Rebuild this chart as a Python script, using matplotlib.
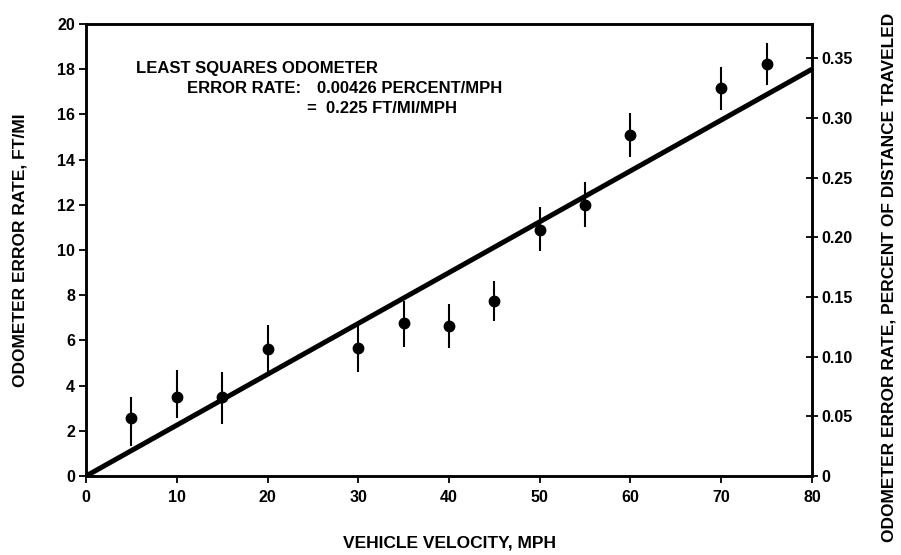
import matplotlib
matplotlib.use("Agg")
import matplotlib.pyplot as plt
import numpy as np

plt.rcParams['font.family'] = ['Liberation Sans', 'DejaVu Sans']
plt.rcParams['font.weight'] = 'bold'

# Data (ft/mi)
velocity = [5, 10, 15, 20, 30, 35, 40, 45, 50, 55, 60, 70, 75]
error_rate = [2.55, 3.5, 3.5, 5.6, 5.65, 6.75, 6.65, 7.75, 10.9, 12.0, 15.1, 17.15, 18.25]
err_lo = [1.2, 0.95, 1.2, 1.05, 1.05, 1.05, 1.0, 0.9, 0.95, 1.0, 1.0, 0.95, 0.95]
err_hi = [0.95, 1.2, 1.1, 1.1, 1.0, 1.0, 0.95, 0.9, 1.0, 1.0, 0.95, 0.95, 0.9]
slope_ft_mi_mph = 0.225
fit_x = [0, 80]

x_ticks = [0, 10, 20, 30, 40, 50, 60, 70, 80]
y_ticks = [0, 2, 4, 6, 8, 10, 12, 14, 16, 18, 20]
pct_ticks = [0, 0.05, 0.10, 0.15, 0.20, 0.25, 0.30, 0.35]
pct_labels = ["0", "0.05", "0.10", "0.15", "0.20", "0.25", "0.30", "0.35"]
FT_PER_MI = 5280.0

fig = plt.figure(figsize=(9.01, 5.55), dpi=100)
ax = fig.add_axes([0.0955, 0.1423, 0.8057, 0.8145])

fit_y = [slope_ft_mi_mph * v for v in fit_x]
ax.plot(fit_x, fit_y, color='black', lw=3.6, solid_capstyle='butt', zorder=2)
ax.errorbar(velocity, error_rate, yerr=[err_lo, err_hi], fmt='o', color='black',
            markersize=7.5, elinewidth=1.5, capsize=0, zorder=3)

ax.set_xlim(0, 80)
ax.set_ylim(0, 20)
ax.set_xticks(x_ticks)
ax.set_yticks(y_ticks)
ax.tick_params(axis='both', direction='out', length=5, width=1.3, labelsize=11.5, pad=3)
ax.tick_params(axis='x', pad=5)
for s in ax.spines.values():
    s.set_linewidth(1.8)

ax2 = ax.twinx()
ax2.set_ylim(0, 20 * 100 / FT_PER_MI)
ax2.set_yticks(pct_ticks)
ax2.set_yticklabels(pct_labels)
ax2.tick_params(axis='y', direction='inout', length=8, width=1.3, labelsize=11.5, pad=3)
for s in ax2.spines.values():
    s.set_linewidth(1.8)

for lab in ax.get_xticklabels() + ax.get_yticklabels() + ax2.get_yticklabels():
    lab.set_fontweight('bold')

ax.set_xlabel("VEHICLE VELOCITY, MPH", fontsize=12.5, fontweight='bold', labelpad=22)
ax.set_ylabel("ODOMETER ERROR RATE, FT/MI", fontsize=12.5, fontweight='bold', labelpad=21)
ax2.set_ylabel("ODOMETER ERROR RATE, PERCENT OF DISTANCE TRAVELED", fontsize=12.5,
               fontweight='bold', va='center', ha='center')
ax2.yaxis.set_label_coords(1.106, 0.44)

fs = 12
ax.text(5.5, 18.05, "LEAST SQUARES ODOMETER", fontsize=fs, fontweight='bold', va='center', ha='left')
ax.text(23.7, 17.15, "ERROR RATE:", fontsize=fs, fontweight='bold', va='center', ha='right')
ax.text(25.4, 17.15, "0.00426 PERCENT/MPH", fontsize=fs, fontweight='bold', va='center', ha='left')
ax.text(24.3, 16.25, "=  0.225 FT/MI/MPH", fontsize=fs, fontweight='bold', va='center', ha='left')

fig.savefig("out.png", dpi=100)
